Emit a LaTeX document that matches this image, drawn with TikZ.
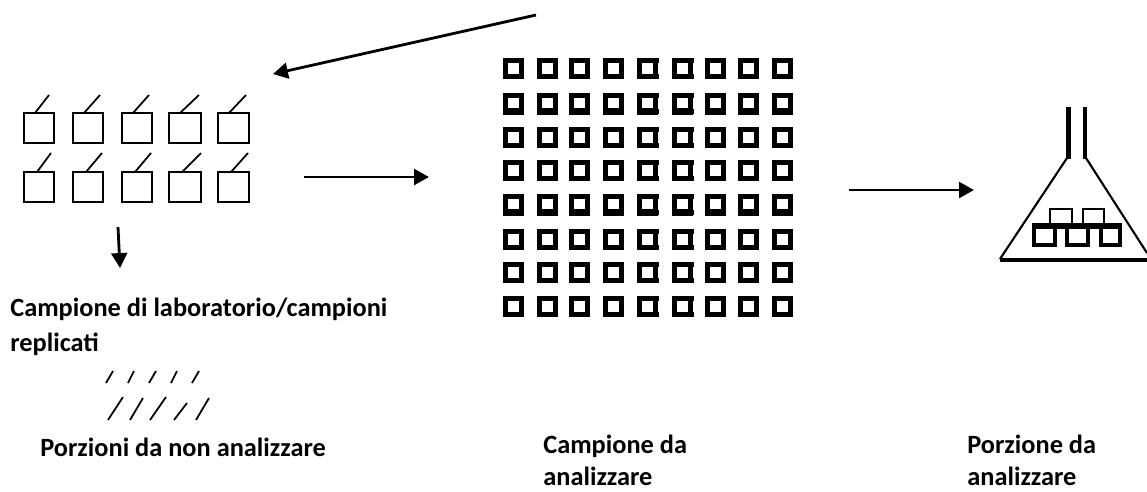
\documentclass[tikz,border=0pt]{standalone}
\usepackage{fontspec}
\setmainfont{Carlito}
\usetikzlibrary{arrows.meta}
\tikzset{
    label/.style={anchor=base west, inner sep=0pt, font=\fontsize{15}{18}\selectfont\bfseries},
    flow/.style={-{Triangle[length=8.5pt, width=9pt]}, line width=1.6pt},
    tick/.style={line width=1pt},
    tube/.style={line width=1.2pt},
    vial/.style={line width=1.6pt},
    packed/.style={line width=3pt}
}
\begin{document}
\begin{tikzpicture}[x=0.02cm, y=-0.02cm]
    \useasboundingbox (0,0) rectangle (1147,491);
    % replicate boxes
    \foreach \xa/\xb/\tx in {24/54/49, 73/103/100, 122/152/149, 169/201/199, 218/249/246} {
        \draw [vial] (\xa,113) rectangle (\xb,143);
        \draw [tick] (\xa+11,113) -- (\tx,95);
        \draw [vial] (\xa,172) rectangle (\xb,202);
        \draw [tick] (\xa+13,172) -- (\tx+2,153);
    }
    % sample grid
    \foreach \c in {503,537,569,603,637,672,705,738,772} {
        \foreach \r in {58,127,160,229,262,296} {
            \draw [packed] (\c+2.6,\r+2.6) rectangle ++(16,16);
        }
        \foreach \r in {93,194} {
            \draw [packed] (\c+2.6,\r+2.6) rectangle ++(16,17);
            \draw [packed] (\c+2.6,\r+18) -- ++(16,0);
        }
    }
    \foreach \c in {637,672} {
        \foreach \r in {58,93,127,160,194,229,262,296} {
            \draw [packed] (\c+19,\r+2.6) -- ++(3,0);
            \draw [packed] (\c+19,\r+18.6) -- ++(3,0);
        }
    }
    % flask
    \draw [line width=3.2pt] (1068.5,107) -- (1068.5,159);
    \draw [line width=2.3pt] (1085,107) -- (1085,159);
    \draw [tube] (1067,158) -- (1000,259);
    \draw [line width=1.8pt] (1000,260) -- (1147,260);
    \draw [tube] (1086,158) -- (1147,253);
    \foreach \xa/\xb in {1050/1072, 1083/1104} {
        \draw [line width=1.6pt] (\xa,223) -- (\xa,209) -- (\xb,209) -- (\xb,223);
    }
    \draw [line width=3pt] (1032,226) -- (1122,226);
    \foreach \xa/\xb in {1034/1055, 1067/1088, 1101/1120} {
        \draw [line width=2.4pt] (\xa,226) -- (\xa,245) -- (\xb,245) -- (\xb,226);
    }
    % thin marks
    \foreach \xa/\xb in {106/113, 128/134, 149/156, 171/177, 192/199} {
        \draw [tick] (\xa,383) -- (\xb,371);
    }
    \foreach \xa/\xb/\yb in {108/123/397, 130/143/398, 150/166/397, 174/187/403, 196/209/398} {
        \draw [tick] (\xa,420) -- (\xb,\yb);
    }
    % flow arrows
    \coordinate (topstart) at (536,15);
    \coordinate (topend) at (273,74);
    \coordinate (leftstart) at (304,177);
    \coordinate (leftend) at (429,177);
    \coordinate (rightstart) at (849,190);
    \coordinate (rightend) at (974,190);
    \coordinate (downstart) at (118,227);
    \coordinate (downend) at (120,268);
    \draw [flow] (topstart) -- (topend);
    \draw [flow] (leftstart) -- (leftend);
    \draw [flow] (rightstart) -- (rightend);
    \draw [flow] (downstart) -- (downend);
    % captions
    \node [label] (lab1) at (10,316) {Campione di laboratorio/campioni};
    \node [label] (lab2) at (10,351) {replicati};
    \node [label] (rest) at (40,456) {Porzioni da non analizzare};
    \node [label] (samp1) at (543,453) {Campione da};
    \node [label] (samp2) at (543,485) {analizzare};
    \node [label] (port1) at (967,453) {Porzione da};
    \node [label] (port2) at (967,485) {analizzare};
\end{tikzpicture}
\end{document}
